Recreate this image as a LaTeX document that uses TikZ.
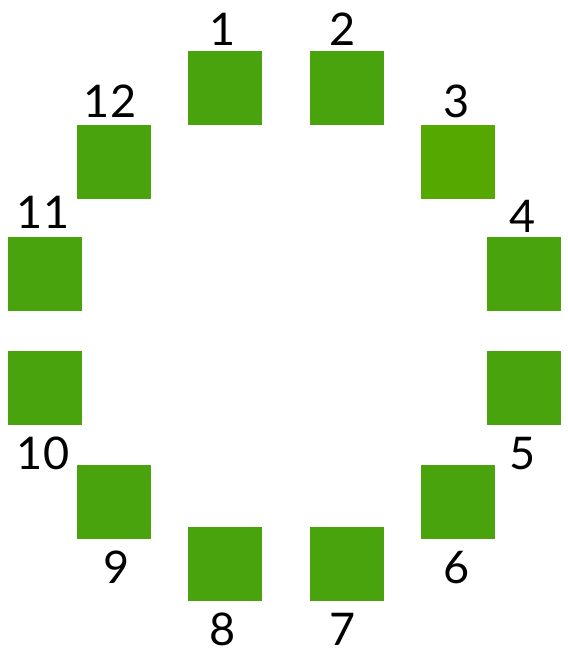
\documentclass[tikz,border=0pt]{standalone}
\usepackage{fontspec}
\setmainfont{Lato}
\definecolor{sqgreen}{HTML}{48A30C}
\definecolor{sqgreenb}{HTML}{55A800}
\begin{document}
\begin{tikzpicture}[x=1pt,y=-1pt,
  sq/.style={fill=sqgreen,draw=none,minimum size=74pt,inner sep=0pt,outer sep=0pt},
  lab/.style={anchor=base,inner sep=0pt,font=\fontsize{45}{45}\selectfont}]
\useasboundingbox (0,0) rectangle (567,652);
\node[sq] (s1) at (225,88) {};
\node[sq] (s2) at (347,88) {};
\node[sq,fill=sqgreenb] (s3) at (458,162.5) {};
\node[sq] (s4) at (524,274) {};
\node[sq] (s5) at (524,388) {};
\node[sq] (s6) at (458,502) {};
\node[sq] (s7) at (347,564) {};
\node[sq] (s8) at (225,564) {};
\node[sq] (s9) at (114,502) {};
\node[sq] (s10) at (45,388) {};
\node[sq] (s11) at (45,274) {};
\node[sq] (s12) at (114,162.5) {};
\node[lab] (l1) at (223,46) {1};
\node[lab] (l2) at (343,46) {2};
\node[lab] (l3) at (457,118) {3};
\node[lab] (l4) at (523,233) {4};
\node[lab] (l5) at (523,469) {5};
\node[lab] (l6) at (457,583) {6};
\node[lab] (l7) at (343,645) {7};
\node[lab] (l8) at (223,645) {8};
\node[lab] (l9) at (117,583) {9};
\node[lab] (l10) at (43,469) {10};
\node[lab] (l11) at (43,229) {11};
\node[lab] (l12) at (110,118) {12};
\end{tikzpicture}
\end{document}
